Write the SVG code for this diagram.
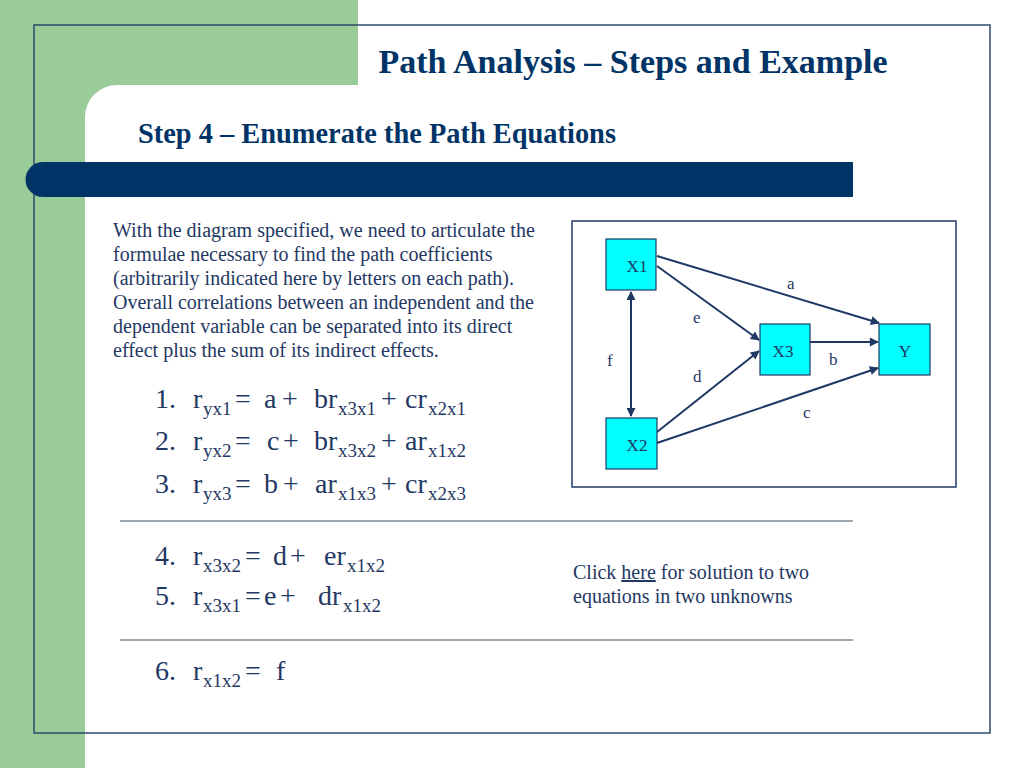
<svg xmlns="http://www.w3.org/2000/svg" width="1024" height="768" viewBox="0 0 1024 768">
<defs>
<style>
.t{font-family:"Liberation Serif","Times New Roman",serif;fill:#1F3864}
.p{font-size:20px}
.eq{font-size:28px}
.sb{font-size:19px}
.nd{fill:#00FFFF;stroke:#1F3864;stroke-width:1.2}
.nt{font-family:"Liberation Serif",serif;font-size:17px;fill:#1F3864;text-anchor:middle}
.lb{font-family:"Liberation Serif",serif;font-size:17px;fill:#1F3864}
.cn{stroke:#1F3864;stroke-width:2;fill:none}
.rule{stroke:#7F8A96;stroke-width:1.5}
</style>
<marker id="ah" viewBox="0 0 10 10" refX="9" refY="5" markerWidth="11" markerHeight="9" markerUnits="userSpaceOnUse" orient="auto-start-reverse">
<path d="M0,0 L10,5 L0,10 z" fill="#1F3864"/>
</marker>
</defs>
<rect width="1024" height="768" fill="#ffffff"/>
<!-- green decoration -->
<path d="M0,0 H358 V85 H117 A32,32 0 0 0 85,117 V768 H0 Z" fill="#99CC99"/>
<!-- frame -->
<rect x="34" y="25" width="956" height="708" fill="none" stroke="#2E4A6B" stroke-width="1.5"/>
<!-- dark bar -->
<path d="M43,162 H853 V197 H43 A17.5,17.5 0 0 1 43,162 Z" fill="#003366"/>
<text x="633" y="73" text-anchor="middle" font-family="Liberation Serif,serif" font-weight="bold" font-size="34" fill="#003366">Path Analysis – Steps and Example</text>
<text x="138" y="143" font-family="Liberation Serif,serif" font-weight="bold" font-size="28.4" fill="#003366">Step 4 – Enumerate the Path Equations</text>
<g class="t p">
<text x="113" y="237">With the diagram specified, we need to articulate the</text>
<text x="113" y="261">formulae necessary to find the path coefficients</text>
<text x="113" y="285">(arbitrarily indicated here by letters on each path).</text>
<text x="113" y="309">Overall correlations between an independent and the</text>
<text x="113" y="333">dependent variable can be separated into its direct</text>
<text x="113" y="357">effect plus the sum of its indirect effects.</text>
</g>
<g class="t eq">
<text y="408"><tspan x="155">1.</tspan><tspan x="193">r</tspan><tspan x="203" y="415" class="sb">yx1</tspan><tspan x="235" y="408">=</tspan><tspan x="264">a</tspan><tspan x="282">+</tspan><tspan x="314">br</tspan><tspan x="338" y="415" class="sb">x3x1</tspan><tspan x="381" y="408">+</tspan><tspan x="405">cr</tspan><tspan x="428" y="415" class="sb">x2x1</tspan></text>
<text y="450"><tspan x="155">2.</tspan><tspan x="193">r</tspan><tspan x="203" y="457" class="sb">yx2</tspan><tspan x="235" y="450">=</tspan><tspan x="267">c</tspan><tspan x="283">+</tspan><tspan x="314">br</tspan><tspan x="338" y="457" class="sb">x3x2</tspan><tspan x="381" y="450">+</tspan><tspan x="405">ar</tspan><tspan x="428" y="457" class="sb">x1x2</tspan></text>
<text y="493"><tspan x="155">3.</tspan><tspan x="193">r</tspan><tspan x="203" y="500" class="sb">yx3</tspan><tspan x="235" y="493">=</tspan><tspan x="264">b</tspan><tspan x="283">+</tspan><tspan x="315">ar</tspan><tspan x="338" y="500" class="sb">x1x3</tspan><tspan x="381" y="493">+</tspan><tspan x="405">cr</tspan><tspan x="428" y="500" class="sb">x2x3</tspan></text>
<text y="565"><tspan x="155">4.</tspan><tspan x="193">r</tspan><tspan x="203" y="572" class="sb">x3x2</tspan><tspan x="245" y="565">=</tspan><tspan x="273">d</tspan><tspan x="290">+</tspan><tspan x="324">er</tspan><tspan x="347" y="572" class="sb">x1x2</tspan></text>
<text y="605"><tspan x="155">5.</tspan><tspan x="193">r</tspan><tspan x="203" y="612" class="sb">x3x1</tspan><tspan x="245" y="605">=</tspan><tspan x="264">e</tspan><tspan x="280">+</tspan><tspan x="318">dr</tspan><tspan x="343" y="612" class="sb">x1x2</tspan></text>
<text y="680"><tspan x="155">6.</tspan><tspan x="193">r</tspan><tspan x="203" y="687" class="sb">x1x2</tspan><tspan x="245" y="680">=</tspan><tspan x="276">f</tspan></text>
</g>
<line class="rule" x1="120" y1="521" x2="853" y2="521"/>
<line class="rule" x1="120" y1="640" x2="853" y2="640"/>
<g class="t p">
<text x="573" y="579">Click <tspan text-decoration="underline">here</tspan> for solution to two</text>
<text x="573" y="603">equations in two unknowns</text>
</g>
<!-- diagram box -->
<rect x="572" y="221" width="384" height="266" fill="none" stroke="#1F3864" stroke-width="1.5"/>
<g id="connectors">
<line class="cn" x1="657" y1="256" x2="879" y2="323" marker-end="url(#ah)"/>
<line class="cn" x1="657" y1="266" x2="759" y2="340" marker-end="url(#ah)"/>
<line class="cn" x1="810" y1="342" x2="878" y2="342" marker-end="url(#ah)"/>
<line class="cn" x1="657" y1="432" x2="759" y2="351" marker-end="url(#ah)"/>
<line class="cn" x1="657" y1="443" x2="878" y2="368" marker-end="url(#ah)"/>
<line class="cn" x1="631" y1="292" x2="631" y2="416" marker-start="url(#ah)" marker-end="url(#ah)"/>
<text class="lb" x="787" y="289">a</text>
<text class="lb" x="693" y="323">e</text>
<text class="lb" x="607" y="366">f</text>
<text class="lb" x="829" y="365">b</text>
<text class="lb" x="693" y="382">d</text>
<text class="lb" x="803" y="418">c</text>
</g>
<g id="X1"><rect class="nd" x="606" y="239" width="50" height="51"/><text class="nt" x="637" y="272">X1</text></g>
<g id="X3"><rect class="nd" x="760" y="324" width="50" height="51"/><text class="nt" x="783" y="357">X3</text></g>
<g id="Y"><rect class="nd" x="879" y="324" width="51" height="51"/><text class="nt" x="905" y="357">Y</text></g>
<g id="X2"><rect class="nd" x="606" y="418" width="51" height="51"/><text class="nt" x="637" y="451">X2</text></g>
</svg>
